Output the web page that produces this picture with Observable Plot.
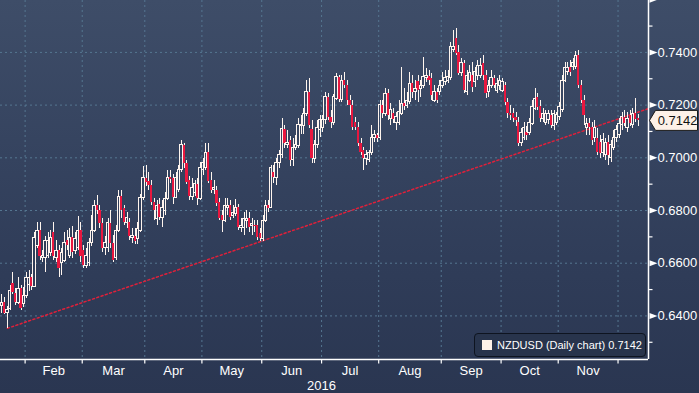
<!DOCTYPE html>
<html><head><meta charset="utf-8">
<script src="https://cdn.jsdelivr.net/npm/d3@7"></script>
<script src="https://cdn.jsdelivr.net/npm/@observablehq/plot@0.6"></script>
<style>
html,body{margin:0;padding:0;}
body{width:699px;height:393px;overflow:hidden;position:relative;background:linear-gradient(#3e4d68 0%,#35435f 40%,#2f3c58 70%,#2a3651 100%);font-family:"Liberation Sans",Arial,sans-serif;}
#chart svg{display:block;}
#legend{position:absolute;left:474px;top:333px;width:172px;height:24px;border:1px solid #0e1420;border-radius:4px;background:#28344c;color:#fff;font-size:11px;display:flex;align-items:center;box-sizing:border-box;padding-left:7px;white-space:nowrap;}
#legend .sw{width:10px;height:10px;background:#fdf1e9;margin-right:5px;flex:none;}
</style></head><body>
<div id="chart"></div>
<div id="legend"><span class="sw"></span><span id="legendText"></span></div>
<script>
// Trading-day range (weekdays) shown on the chart
const firstDay = "2016-01-19";
const lastDay = "2016-12-12";
const seriesName = "NZDUSD (Daily chart)";

const open = [
0.6439,0.6450,0.6410,0.6428,0.6523,0.6485,0.6450,0.6504,0.6447,
0.6477,0.6519,0.6545,0.6511,0.6667,0.6724,0.6621,0.6618,0.6629,0.6637,0.6716,0.6621,0.6648,0.6602,0.6610,0.6686,0.6629,0.6697,0.6648,0.6656,0.6724,
0.6648,0.6591,0.6599,0.6675,0.6724,0.6819,0.6800,0.6751,0.6656,0.6656,0.6751,0.6675,0.6618,0.6724,0.6853,0.6808,0.6751,0.6754,0.6697,0.6701,0.6693,0.6724,0.6849,
0.6922,0.6910,0.6895,0.6830,0.6769,0.6823,0.6773,0.6800,0.6845,0.6925,0.6922,0.6849,0.6876,0.6952,0.7047,0.6979,0.6914,0.6853,0.6865,0.6899,0.6845,
0.6952,0.6963,0.7020,0.6914,0.6876,0.6876,0.6830,0.6781,0.6762,0.6811,0.6819,0.6781,0.6788,0.6811,0.6735,0.6735,0.6762,0.6769,0.6743,0.6743,0.6743,0.6712,
0.6693,0.6762,0.6819,0.6811,0.6944,0.6925,0.6979,0.7009,0.7108,0.7047,0.7066,0.6990,0.7036,0.7043,0.7119,0.7119,0.7168,0.7248,0.7108,0.6997,0.7047,0.7104,
0.7112,0.7142,0.7229,0.7153,0.7134,0.7225,0.7305,0.7221,0.7293,0.7274,0.7217,0.7199,0.7134,0.7115,0.7055,0.7028,0.6997,0.6990,0.7017,0.7074,0.7085,
0.7074,0.7199,0.7168,0.7244,0.7149,0.7168,0.7134,0.7134,0.7168,0.7206,0.7195,0.7210,0.7282,0.7248,0.7289,0.7263,0.7274,0.7301,0.7309,0.7301,0.7217,0.7248,0.7248,
0.7274,0.7286,0.7293,0.7301,0.7411,0.7453,0.7400,0.7320,0.7358,0.7248,0.7293,0.7312,0.7286,0.7312,0.7312,0.7358,0.7312,0.7248,0.7274,0.7301,0.7255,0.7274,
0.7255,0.7274,0.7210,0.7168,0.7168,0.7153,0.7134,0.7055,0.7077,0.7096,0.7096,0.7130,0.7187,0.7229,0.7195,0.7149,0.7134,0.7142,0.7161,0.7119,0.7134,
0.7153,0.7180,0.7293,0.7324,0.7343,0.7343,0.7343,0.7388,0.7274,0.7217,0.7115,0.7130,0.7115,0.7074,0.7074,0.7058,0.7017,0.7009,0.7058,0.7001,0.7039,0.7074,
0.7085,0.7123,0.7153,0.7115,0.7161,0.7123,0.7168,0.7149];

const high = [
0.6481,0.6469,0.6435,0.6515,0.6564,0.6504,0.6545,0.6515,0.6508,
0.6564,0.6572,0.6557,0.6716,0.6754,0.6754,0.6648,0.6701,0.6716,0.6724,0.6754,0.6686,0.6667,0.6656,0.6716,0.6724,0.6731,0.6739,0.6716,0.6777,0.6754,
0.6667,0.6656,0.6693,0.6781,0.6838,0.6857,0.6819,0.6769,0.6701,0.6769,0.6800,0.6705,0.6743,0.6876,0.6876,0.6819,0.6792,0.6769,0.6731,0.6731,0.6754,0.6861,0.6967,
0.6971,0.6944,0.6914,0.6845,0.6838,0.6845,0.6838,0.6868,0.6952,0.6952,0.6937,0.6944,0.6971,0.7066,0.7055,0.6990,0.6929,0.6922,0.6914,0.6922,0.6982,
0.6997,0.7055,0.7055,0.6944,0.6914,0.6891,0.6845,0.6800,0.6845,0.6845,0.6838,0.6819,0.6842,0.6823,0.6769,0.6792,0.6800,0.6792,0.6769,0.6762,0.6762,0.6731,
0.6781,0.6838,0.6838,0.6971,0.6971,0.6997,0.7028,0.7149,0.7123,0.7104,0.7081,0.7074,0.7085,0.7149,0.7161,0.7187,0.7293,0.7301,0.7142,0.7066,0.7142,0.7161,
0.7161,0.7248,0.7244,0.7180,0.7240,0.7320,0.7312,0.7312,0.7324,0.7293,0.7236,0.7217,0.7153,0.7134,0.7074,0.7039,0.7028,0.7028,0.7123,0.7104,0.7093,
0.7217,0.7217,0.7263,0.7259,0.7206,0.7187,0.7172,0.7217,0.7343,0.7263,0.7248,0.7324,0.7312,0.7293,0.7312,0.7293,0.7381,0.7339,0.7331,0.7320,0.7274,0.7263,0.7293,
0.7324,0.7331,0.7331,0.7438,0.7483,0.7491,0.7426,0.7377,0.7369,0.7331,0.7350,0.7362,0.7343,0.7369,0.7377,0.7388,0.7331,0.7293,0.7331,0.7312,0.7301,0.7312,
0.7301,0.7286,0.7225,0.7199,0.7187,0.7172,0.7153,0.7112,0.7134,0.7119,0.7149,0.7217,0.7263,0.7244,0.7217,0.7187,0.7180,0.7180,0.7180,0.7180,0.7172,
0.7210,0.7312,0.7362,0.7362,0.7369,0.7377,0.7403,0.7407,0.7293,0.7236,0.7149,0.7149,0.7134,0.7142,0.7112,0.7085,0.7093,0.7074,0.7085,0.7066,0.7104,0.7123,
0.7149,0.7172,0.7180,0.7172,0.7180,0.7187,0.7225,0.7165];

const low = [
0.6410,0.6406,0.6353,0.6421,0.6481,0.6439,0.6443,0.6421,0.6432,
0.6466,0.6492,0.6496,0.6508,0.6656,0.6610,0.6602,0.6564,0.6618,0.6625,0.6610,0.6602,0.6545,0.6553,0.6602,0.6648,0.6618,0.6618,0.6633,0.6648,0.6602,
0.6580,0.6580,0.6587,0.6663,0.6716,0.6785,0.6731,0.6640,0.6629,0.6640,0.6656,0.6602,0.6610,0.6716,0.6769,0.6743,0.6731,0.6686,0.6675,0.6671,0.6671,0.6716,0.6838,
0.6891,0.6876,0.6819,0.6762,0.6743,0.6762,0.6735,0.6781,0.6838,0.6903,0.6823,0.6845,0.6868,0.6944,0.6960,0.6899,0.6838,0.6838,0.6853,0.6819,0.6838,
0.6933,0.6952,0.6903,0.6865,0.6861,0.6815,0.6762,0.6716,0.6754,0.6781,0.6762,0.6769,0.6777,0.6724,0.6716,0.6705,0.6731,0.6716,0.6705,0.6716,0.6686,0.6682,
0.6682,0.6754,0.6792,0.6808,0.6903,0.6895,0.6960,0.6997,0.7036,0.7036,0.6967,0.6967,0.7028,0.7036,0.7089,0.7089,0.7157,0.7112,0.6979,0.6979,0.7036,0.7077,
0.7096,0.7127,0.7142,0.7112,0.7123,0.7217,0.7210,0.7210,0.7263,0.7199,0.7161,0.7104,0.7104,0.7043,0.7009,0.6952,0.6971,0.6982,0.7009,0.7058,0.7058,
0.7066,0.7149,0.7157,0.7142,0.7123,0.7130,0.7104,0.7123,0.7161,0.7180,0.7187,0.7202,0.7225,0.7217,0.7210,0.7229,0.7263,0.7286,0.7274,0.7217,0.7210,0.7206,0.7236,
0.7263,0.7274,0.7282,0.7293,0.7400,0.7388,0.7312,0.7309,0.7244,0.7236,0.7286,0.7248,0.7267,0.7293,0.7301,0.7293,0.7225,0.7229,0.7263,0.7263,0.7244,0.7255,
0.7248,0.7199,0.7149,0.7142,0.7134,0.7119,0.7043,0.7043,0.7066,0.7066,0.7085,0.7123,0.7180,0.7180,0.7134,0.7134,0.7123,0.7127,0.7112,0.7104,0.7123,
0.7142,0.7172,0.7286,0.7312,0.7309,0.7331,0.7335,0.7263,0.7206,0.7123,0.7085,0.7085,0.7047,0.7058,0.7009,0.6997,0.7001,0.6990,0.6971,0.6982,0.7028,0.7058,
0.7074,0.7104,0.7119,0.7096,0.7119,0.7112,0.7134,0.7119];

const close = [
0.6450,0.6410,0.6421,0.6496,0.6488,0.6450,0.6504,0.6428,0.6477,
0.6542,0.6545,0.6511,0.6697,0.6724,0.6625,0.6629,0.6686,0.6686,0.6697,0.6625,0.6648,0.6580,0.6640,0.6678,0.6667,0.6697,0.6640,0.6693,0.6724,0.6625,
0.6591,0.6629,0.6675,0.6724,0.6819,0.6800,0.6751,0.6656,0.6675,0.6751,0.6675,0.6610,0.6724,0.6853,0.6800,0.6754,0.6773,0.6701,0.6705,0.6682,0.6731,0.6849,0.6922,
0.6906,0.6895,0.6830,0.6800,0.6819,0.6773,0.6811,0.6845,0.6925,0.6918,0.6849,0.6922,0.6952,0.7047,0.6979,0.6906,0.6853,0.6887,0.6899,0.6845,0.6963,
0.6979,0.7020,0.6910,0.6876,0.6884,0.6827,0.6769,0.6762,0.6819,0.6819,0.6773,0.6792,0.6811,0.6735,0.6743,0.6769,0.6769,0.6735,0.6747,0.6739,0.6697,0.6693,
0.6762,0.6819,0.6808,0.6963,0.6925,0.6979,0.7009,0.7108,0.7055,0.7058,0.6990,0.7036,0.7047,0.7123,0.7123,0.7168,0.7248,0.7123,0.6997,0.7047,0.7115,0.7142,
0.7142,0.7229,0.7153,0.7134,0.7229,0.7305,0.7221,0.7293,0.7274,0.7217,0.7199,0.7115,0.7115,0.7055,0.7020,0.6997,0.7009,0.7020,0.7077,0.7085,0.7074,
0.7199,0.7168,0.7244,0.7161,0.7180,0.7146,0.7153,0.7172,0.7206,0.7195,0.7217,0.7282,0.7248,0.7263,0.7255,0.7274,0.7305,0.7312,0.7293,0.7236,0.7248,0.7217,0.7274,
0.7293,0.7301,0.7305,0.7419,0.7419,0.7396,0.7320,0.7358,0.7255,0.7312,0.7320,0.7267,0.7324,0.7350,0.7350,0.7312,0.7244,0.7274,0.7301,0.7274,0.7282,0.7293,
0.7286,0.7210,0.7168,0.7161,0.7149,0.7142,0.7055,0.7096,0.7115,0.7085,0.7134,0.7191,0.7225,0.7191,0.7149,0.7168,0.7165,0.7165,0.7123,0.7165,0.7161,
0.7191,0.7293,0.7339,0.7339,0.7324,0.7358,0.7388,0.7274,0.7217,0.7161,0.7130,0.7115,0.7066,0.7112,0.7020,0.7017,0.7066,0.7058,0.7009,0.7047,0.7077,0.7104,
0.7130,0.7153,0.7130,0.7149,0.7130,0.7168,0.7146,0.7142];

// Trend line drawn through the January low and the end-of-May low
const trendAnchorDays = [2, 95];
const trendAnchorValues = [0.6353, 0.6682];

// Axis ticks
const yMajor = [0.64, 0.66, 0.68, 0.70, 0.72, 0.74, 0.76];
const yMinor = [0.63, 0.65, 0.67, 0.69, 0.71, 0.73, 0.75];
const yLabelled = [0.64, 0.66, 0.68, 0.70, 0.72, 0.74];
const monthNames = ["Jan","Feb","Mar","Apr","May","Jun","Jul","Aug","Sep","Oct","Nov","Dec"];
const yearLabel = "2016";

// ---- build ----
const days = d3.utcDay.range(new Date(firstDay), d3.utcDay.offset(new Date(lastDay), 1))
  .filter(d => d.getUTCDay() !== 0 && d.getUTCDay() !== 6);
const candles = close.map((c, i) => ({i, date: days[i], o: open[i], h: high[i], l: low[i], c}));
const up = candles.filter(d => d.c >= d.o);
const down = candles.filter(d => d.c < d.o);

const X_MIN = -0.55, X_MAX = 237.7;
const Y_MIN = 0.62346, Y_MAX = 0.7597;

const monthStarts = [];
days.forEach((d, i) => { if (i > 0 && d.getUTCMonth() !== days[i-1].getUTCMonth()) monthStarts.push({i, m: d.getUTCMonth()}); });
const boundaries = monthStarts.map(s => s.i - 0.5);
const monthLabels = monthStarts.slice(0, -1).map((s, k) => ({x: (s.i - 0.5 + monthStarts[k+1].i - 0.5) / 2, text: monthNames[s.m]}));
const julStart = monthStarts.find(s => s.m === 6).i - 0.5;

const slope = (trendAnchorValues[1] - trendAnchorValues[0]) / (trendAnchorDays[1] - trendAnchorDays[0]);
const trendPts = [
  {x: trendAnchorDays[0], y: trendAnchorValues[0]},
  {x: X_MAX, y: trendAnchorValues[0] + slope * (X_MAX - trendAnchorDays[0])}
];

const last = candles[candles.length - 1];

const CREAM = "#fff5ee", RED = "#e8173f", GRID = "#557691";

const triSym = {draw(ctx){ ctx.moveTo(0,-3); ctx.lineTo(8,0); ctx.lineTo(0,3); ctx.closePath(); }};
const minorSym = {draw(ctx){ ctx.moveTo(0,0); ctx.lineTo(4,0); }};
const vtickSym = {draw(ctx){ ctx.moveTo(0,0); ctx.lineTo(0,4); }};
const tagSym = {draw(ctx){ ctx.moveTo(0,0); ctx.lineTo(6,-10); ctx.lineTo(48,-10); ctx.lineTo(48,10); ctx.lineTo(6,10); ctx.closePath(); }};

const chart = Plot.plot({
  width: 699, height: 393,
  marginLeft: 0, marginRight: 51, marginTop: 0, marginBottom: 34,
  style: {background: "none", color: "white", fontFamily: "'Liberation Sans', Arial, sans-serif", overflow: "visible"},
  x: {type: "linear", domain: [X_MIN, X_MAX], axis: null},
  y: {domain: [Y_MIN, Y_MAX], axis: null},
  marks: [
    Plot.ruleY(yMajor.filter(v => v < 0.75), {y: d => d, stroke: GRID, strokeDasharray: "2,3", strokeWidth: 1}),
    Plot.ruleX(boundaries, {x: d => d, stroke: GRID, strokeDasharray: "2,3", strokeWidth: 1}),
    Plot.line(trendPts, {x: "x", y: "y", stroke: "#e0203a", strokeWidth: 1.5, strokeDasharray: "2,2.5"}),
    Plot.ruleX(candles, {x: "i", y1: "h", y2: d => Math.max(d.o, d.c), stroke: CREAM, strokeWidth: 1, shapeRendering: "crispEdges"}),
    Plot.ruleX(candles, {x: "i", y1: d => Math.min(d.o, d.c), y2: "l", stroke: CREAM, strokeWidth: 1, shapeRendering: "crispEdges"}),
    Plot.rect(down, {x1: d => d.i - 0.42, x2: d => d.i + 0.42, y1: "o", y2: "c", fill: RED, shapeRendering: "crispEdges"}),
    Plot.rect(up, {x1: d => d.i - 0.45, x2: d => d.i + 0.45, y1: "o", y2: "c", fill: "none", stroke: CREAM, strokeWidth: 1, shapeRendering: "crispEdges"}),
    Plot.ruleX([X_MAX], {x: d => d, stroke: "white", strokeWidth: 1.5}),
    Plot.ruleY([Y_MIN], {y: d => d, stroke: "white", strokeWidth: 1.5}),
    Plot.dot(yMajor, {x: () => X_MAX, y: d => d, symbol: triSym, fill: "white", stroke: "none", dx: 1}),
    Plot.dot(yMinor, {x: () => X_MAX, y: d => d, symbol: minorSym, stroke: "white", fill: "none", strokeWidth: 1.2}),
    Plot.text(yLabelled, {x: () => X_MAX, y: d => d, text: d => d.toFixed(4), textAnchor: "start", dx: 9, fill: "white", fontSize: 13}),
    Plot.dot(boundaries, {x: d => d, y: () => Y_MIN, symbol: vtickSym, stroke: "white", fill: "none", strokeWidth: 1.2}),
    Plot.text(monthLabels, {x: "x", y: () => Y_MIN, text: "text", dy: 11, fill: "white", fontSize: 13}),
    Plot.text([yearLabel], {x: () => julStart, y: () => Y_MIN, text: d => d, dy: 26, fill: "white", fontSize: 13}),
    Plot.dot([last], {x: () => X_MAX, y: "c", symbol: tagSym, fill: "#fdf1e8", stroke: "#1a1a1a", strokeWidth: 1, dx: 1}),
    Plot.text([last], {x: () => X_MAX, y: "c", text: d => d.c.toFixed(4), dx: 29, fill: "#111", fontSize: 13})
  ]
});
document.getElementById("chart").appendChild(chart);
document.getElementById("legendText").textContent = seriesName + " " + last.c.toFixed(4);
</script>
</body></html>
